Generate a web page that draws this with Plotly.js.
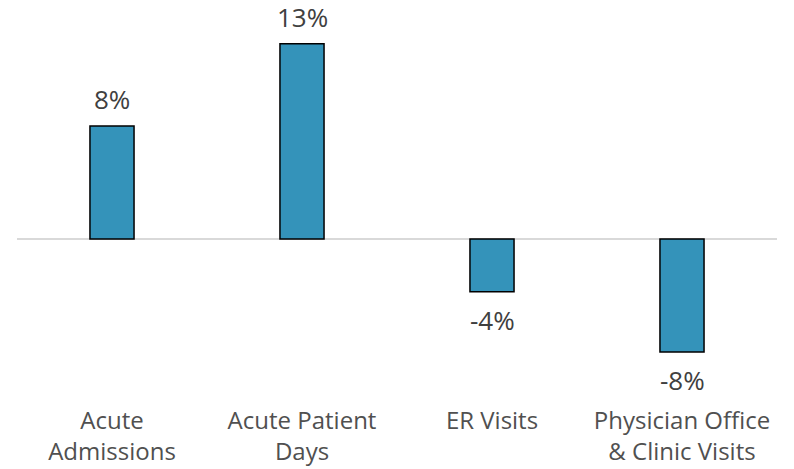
<!DOCTYPE html>
<html>
<head>
<meta charset="utf-8">
<script src="https://cdn.plot.ly/plotly-3.0.1.min.js"></script>
<style>html,body{margin:0;padding:0;background:#fff;}#chart{width:794px;height:469px;}</style>
</head>
<body>
<div id="chart"></div>
<script>
var categories = ["Acute<br>Admissions", "Acute Patient<br>Days", "ER Visits", "Physician Office<br>& Clinic Visits"];
var values = [7.7, 13.3, -3.6, -7.7];
var valueLabels = ["8%", "13%", "-4%", "-8%"];

var annotations = values.map(function (v, i) {
  return {
    x: categories[i], y: v, xref: 'x', yref: 'y',
    text: valueLabels[i], showarrow: false,
    yanchor: 'middle', yshift: v >= 0 ? 27 : -28,
    font: {family: 'Open Sans', size: 26, color: '#404040'}
  };
});

var trace = {
  type: 'bar', x: categories, y: values,
  marker: {color: '#3493BA', line: {color: '#000000', width: 1.5}},
  hoverinfo: 'none'
};

var layout = {
  width: 794, height: 469,
  margin: {l: 17, r: 17, t: 0, b: 65},
  paper_bgcolor: '#ffffff', plot_bgcolor: '#ffffff',
  bargap: 0.768,
  showlegend: false,
  xaxis: {
    showgrid: false, showline: false, zeroline: false, ticks: '',
    tickfont: {family: 'Open Sans', size: 24, color: '#505050'},
    fixedrange: true
  },
  yaxis: {
    range: [-11.24, 16.28], showgrid: false, showline: false,
    showticklabels: false, ticks: '',
    zeroline: true, zerolinecolor: '#d9d9d9', zerolinewidth: 1.5,
    fixedrange: true
  },
  annotations: annotations
};

Plotly.newPlot('chart', [trace], layout, {displayModeBar: false, staticPlot: true});
</script>
</body>
</html>
